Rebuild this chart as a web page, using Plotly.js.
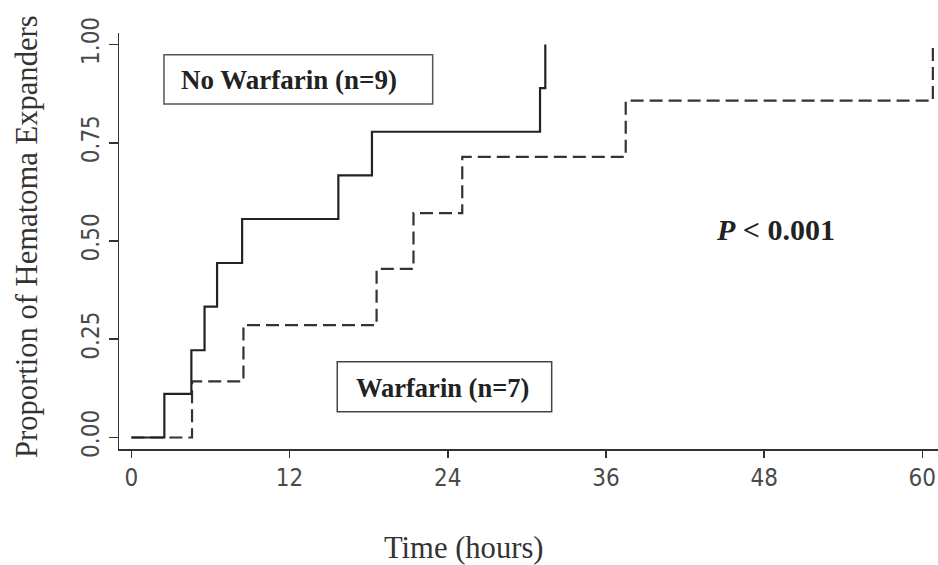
<!DOCTYPE html>
<html>
<head>
<meta charset="utf-8">
<script src="https://cdn.plot.ly/plotly-3.0.1.min.js"></script>
<style>html,body{margin:0;padding:0;background:#fff;}#chart{width:938px;height:565px;}</style>
</head>
<body>
<div id="chart"></div>
<script>
// Kaplan-Meier style cumulative proportion of hematoma expanders
const noWarfarinTimes = [0, 2.5, 4.55, 5.55, 6.5, 8.4, 15.7, 18.25, 31.0, 31.4];
const noWarfarinProp  = [0, 0.111, 0.222, 0.333, 0.444, 0.556, 0.667, 0.778, 0.889, 1.0];
const warfarinTimes   = [0, 4.6, 8.5, 18.6, 21.4, 25.1, 37.5, 60.8];
const warfarinProp    = [0, 0.143, 0.286, 0.429, 0.571, 0.714, 0.857, 1.0];

const xTickVals = [0, 12, 24, 36, 48, 60];
const xTickText = ['0', '12', '24', '36', '48', '60'];
const yTickVals = [0, 0.25, 0.5, 0.75, 1.0];
const yTickText = ['0.00', '0.25', '0.50', '0.75', '1.00'];

const xTitle = 'Time (hours)';
const yTitle = 'Proportion of Hematoma Expanders';
const labelNoWarfarin = 'No Warfarin (n=9)';
const labelWarfarin = 'Warfarin (n=7)';
const pText = '<i>P</i> &lt; 0.001';

const tickFont = {family: '"Liberation Sans Narrow", "Arial Narrow", "DejaVu Sans Condensed", "Liberation Sans", sans-serif', size: 24, color: '#4a4a4a'};
const serif = '"Liberation Serif", "Times New Roman", serif';

const traces = [
  {x: warfarinTimes, y: warfarinProp, type: 'scatter', mode: 'lines', line: {shape: 'hv', color: '#333', width: 2.2, dash: '13px,6px'}, name: labelWarfarin, hoverinfo: 'x+y'},
  {x: noWarfarinTimes, y: noWarfarinProp, type: 'scatter', mode: 'lines', line: {shape: 'hv', color: '#222', width: 2.2}, name: labelNoWarfarin, hoverinfo: 'x+y'}
];

const layout = {
  width: 938, height: 565,
  margin: {l: 119, r: 0, t: 33, b: 116, pad: 0},
  paper_bgcolor: '#fff', plot_bgcolor: '#fff',
  showlegend: false,
  xaxis: {
    range: [-0.94, 61.19], showgrid: false, zeroline: false,
    showline: true, linecolor: '#333', linewidth: 1.5,
    ticks: 'outside', ticklen: 7, tickwidth: 1.5, tickcolor: '#333',
    tickvals: xTickVals, ticktext: xTickText, tickfont: tickFont,
    fixedrange: true
  },
  yaxis: {
    range: [-0.0293, 1.0293], showgrid: false, zeroline: false,
    showline: true, linecolor: '#333', linewidth: 1.5,
    ticks: 'outside', ticklen: 9, tickwidth: 1.5, tickcolor: '#333',
    tickvals: yTickVals, ticktext: yTickText, tickfont: tickFont, tickangle: -90,
    fixedrange: true
  },
  shapes: [
    {type: 'rect', xref: 'paper', yref: 'paper', x0: 0.0549, x1: 0.3830, y0: 0.8293, y1: 0.9478, line: {color: '#555', width: 1.5}},
    {type: 'rect', xref: 'paper', yref: 'paper', x0: 0.2665, x1: 0.5283, y0: 0.0897, y1: 0.2099, line: {color: '#444', width: 1.5}}
  ],
  annotations: [
    {text: yTitle, xref: 'paper', yref: 'paper', x: -0.1123, y: 0.5096, xanchor: 'center', yanchor: 'middle', textangle: -90, showarrow: false, font: {family: serif, size: 30.6, color: '#333'}},
    {text: xTitle, xref: 'paper', yref: 'paper', x: 0.4212, y: -0.238, xanchor: 'center', yanchor: 'middle', showarrow: false, font: {family: serif, size: 30.6, color: '#333'}},
    {text: '<b>' + labelNoWarfarin + '</b>', xref: 'paper', yref: 'paper', x: 0.2076, y: 0.887, xanchor: 'center', yanchor: 'middle', showarrow: false, font: {family: serif, size: 27, color: '#222'}},
    {text: '<b>' + labelWarfarin + '</b>', xref: 'paper', yref: 'paper', x: 0.3956, y: 0.1466, xanchor: 'center', yanchor: 'middle', showarrow: false, font: {family: serif, size: 26.5, color: '#222'}},
    {text: '<b>' + pText + '</b>', xref: 'paper', yref: 'paper', x: 0.801, y: 0.5288, xanchor: 'center', yanchor: 'middle', showarrow: false, font: {family: serif, size: 30, color: '#222'}}
  ]
};

Plotly.newPlot('chart', traces, layout, {displayModeBar: false, staticPlot: true});
</script>
</body>
</html>
